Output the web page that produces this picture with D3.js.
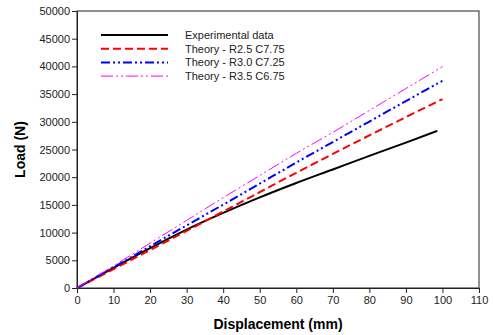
<!DOCTYPE html>
<html>
<head>
    <meta charset="UTF-8">
    <script src="https://d3js.org/d3.v7.min.js"></script>
    <style>
     body { margin: 0; background: #fff; }
     text { font-family: "Liberation Sans", Arial, sans-serif; }
    </style>
</head>
<body>
    <div id="chart"></div>
    <script>
     // values
     const disp = [0, 10, 20, 30, 40, 50, 60, 70, 80, 90, 100];
     const expDisp = [0, 10, 20, 30, 40, 50, 60, 70, 80, 90, 98.6];
     const expLoad = [0, 3650, 7200, 10550, 13550, 16350, 18950, 21400, 23850, 26250, 28370];
     const loadR25 = [0, 3400, 6850, 10300, 13800, 17300, 20800, 24200, 27550, 30850, 34100];
     const loadR30 = [0, 3750, 7550, 11300, 15050, 18850, 22650, 26350, 30050, 33750, 37400];
     const loadR35 = [0, 4000, 8100, 12200, 16300, 20300, 24300, 28100, 32050, 36000, 39950];
     const names = ["Experimental data", "Theory - R2.5 C7.75", "Theory - R3.0 C7.25", "Theory - R3.5 C6.75"];
     const xTicks = d3.range(0, 111, 10);
     const yTicks = d3.range(0, 50001, 5000);

     const width = 493, height = 335;
     const margin = {top: 11, left: 77, right: 14, bottom: 47};

     const series = [
         {name: names[0], x: expDisp, y: expLoad, color: "#000000", w: 2, dash: null},
         {name: names[1], x: disp, y: loadR25, color: "#ff0000", w: 2, dash: "8,4"},
         {name: names[2], x: disp, y: loadR30, color: "#0000ff", w: 2, dash: "9,3,2,3,2,3"},
         {name: names[3], x: disp, y: loadR35, color: "#ff00ff", w: 1, dash: "12,3,2,3,2,3"}
     ];

     let svg = d3.select("#chart").append("svg")
                 .attr("width", width)
                 .attr("height", height);

     let scaleX = d3.scaleLinear()
         .domain([0, 110])
         .range([margin.left, width - margin.right]);
     let scaleY = d3.scaleLinear()
         .domain([0, 50000])
         .range([height - margin.bottom, margin.top]);

     // frame
     svg.append("rect")
        .attr("x", margin.left)
        .attr("y", margin.top)
        .attr("width", scaleX(110) - scaleX(0))
        .attr("height", scaleY(0) - scaleY(50000))
        .attr("fill", "none")
        .attr("stroke", "#222")
        .attr("stroke-width", 1);

     let xAxis = svg.append("g")
         .attr("transform", `translate(0,${scaleY(0)})`)
         .call(d3.axisBottom(scaleX).tickValues(xTicks).tickSize(5).tickPadding(3).tickFormat(d3.format("d")));
     let yAxis = svg.append("g")
         .attr("transform", `translate(${scaleX(0)},0)`)
         .call(d3.axisLeft(scaleY).tickValues(yTicks).tickSize(5).tickPadding(2).tickFormat(d3.format("d")));
     [xAxis, yAxis].forEach(a => {
         a.select(".domain").attr("stroke", "#222");
         a.selectAll(".tick line").attr("stroke", "#222");
         a.selectAll("text")
          .attr("fill", "#222")
          .style("font-size", "11px")
          .style("font-family", "'Liberation Sans', Arial, sans-serif");
     });

     // lines
     let line = d3.line()
         .x(d => scaleX(d[0]))
         .y(d => scaleY(d[1]))
         .curve(d3.curveMonotoneX);

     svg.append("g")
        .selectAll("path.series")
        .data(series)
        .enter()
        .append("path")
        .attr("class", "series")
        .attr("d", s => line(s.x.map((v, i) => [v, s.y[i]])))
        .attr("fill", "none")
        .attr("stroke", s => s.color)
        .attr("stroke-width", s => s.w)
        .attr("stroke-dasharray", s => s.dash);

     // legend
     let legend = svg.append("g")
         .selectAll("g.legend")
         .data(series)
         .enter()
         .append("g")
         .attr("class", "legend")
         .attr("transform", (d, i) => `translate(101,${35 + i * 13.7})`);
     legend.append("line")
        .attr("x1", 0).attr("x2", 67)
        .attr("stroke", d => d.color)
        .attr("stroke-width", d => d.w)
        .attr("stroke-dasharray", d => d.dash);
     legend.append("text")
        .attr("x", 84)
        .attr("dy", "0.35em")
        .style("font-size", "11px")
        .attr("fill", "#222")
        .text(d => d.name);

     // axis titles
     svg.append("text")
        .attr("x", scaleX(55))
        .attr("y", 329)
        .attr("text-anchor", "middle")
        .style("font-size", "14px")
        .style("font-weight", "bold")
        .text("Displacement (mm)");
     svg.append("text")
        .attr("transform", `translate(25,${scaleY(25000)}) rotate(-90)`)
        .attr("text-anchor", "middle")
        .style("font-size", "14px")
        .style("font-weight", "bold")
        .text("Load (N)");
    </script>
</body>
</html>
